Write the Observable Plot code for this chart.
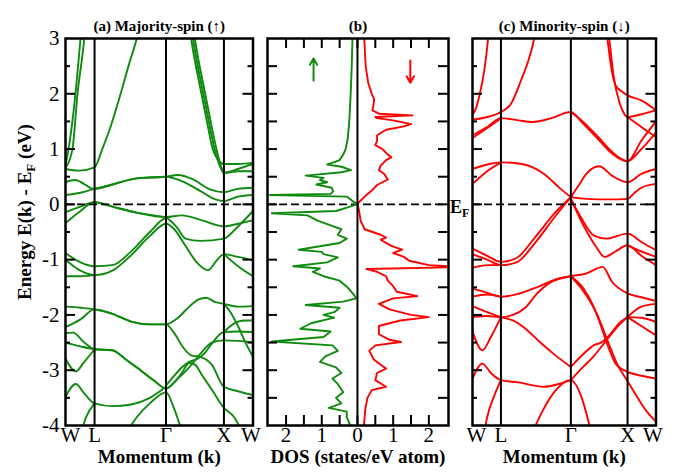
<!DOCTYPE html>
<html><head><meta charset="utf-8">
<script src="https://cdn.jsdelivr.net/npm/d3@7"></script>
<script src="https://cdn.jsdelivr.net/npm/@observablehq/plot@0.6"></script>
<style>
body{margin:0;background:#fff;}
#wrap{position:relative;width:679px;height:472px;overflow:hidden;}
#wrap svg{position:absolute;top:0;}
</style></head><body><div id="wrap"></div>
<script>
// ---------- data ----------
const kTicks = [0, 15.5, 53.6, 84.5, 100];
const kLabels = ["W", "L", "Γ", "X", "W"];
const energyTicks = [-4, -3, -2, -1, 0, 1, 2, 3];
const energyMajor = [-3, -2, -1, 0, 1, 2];
const energyMinor = [-3.5, -2.5, -1.5, -0.5, 0.5, 1.5, 2.5];
const dosTicks = [-2, -1, 0, 1, 2];
const dosMinor = [-1.5, -0.5, 0.5, 1.5];

// majority-spin bands: [k, E]
const majorityBands = [
  [[0,0.72],[1.6,1.0],[5.3,2.0],[8,3.0],[9,3.4]],
  [[0,0.66],[3.7,1.0],[6.4,2.0],[10,3.0],[11,3.4]],
  [[0,0.64],[7,0.61],[15.5,0.67],[19.6,1.0],[24,1.4],[29.4,2.0],[34,2.55],[38,3.0],[40,3.3]],
  [[65,3.5],[67,3.0],[72.5,2.0],[76,1.4],[78.5,1.0],[81.5,0.8],[84.5,0.73],[92,0.73],[100,0.75]],
  [[66,3.5],[68,3.0],[73.5,2.0],[77,1.4],[79.5,1.0],[82.5,0.68],[84.5,0.57],[92,0.64],[100,0.73]],
  [[67,3.5],[69,3.0],[74.5,2.0],[78,1.4],[80.5,1.0],[83,0.68],[84.5,0.57],[92,0.6],[100,0.6]],
  [[0,0.40],[5,0.44],[15.5,0.28],[25,0.36],[38,0.47],[53.6,0.50],[60,0.53],[68,0.45],[77,0.27],[84.5,0.22],[92,0.28],[100,0.3]],
  [[0,0.17],[8,0.21],[15.5,0.28],[25,0.36],[38,0.47],[53.6,0.50],[62,0.42],[72,0.24],[80,0.09],[84.5,0.06],[92,0.14],[100,0.17]],
  [[0,-0.14],[8,-0.04],[15.5,0.04],[25,-0.04],[38,-0.15],[53.6,-0.23],[62,-0.2],[72,-0.28],[84.5,-0.40],[92,-0.35],[100,-0.29]],
  [[0,-0.34],[8,-0.12],[15.5,0.04],[25,-0.04],[38,-0.15],[53.6,-0.23]],
  [[0,-0.88],[8,-1.05],[15.5,-1.12],[25,-1.1],[35,-0.85],[45,-0.5],[53.6,-0.25],[59,-0.4],[64,-0.62],[72,-0.66],[84.5,-0.62],[92,-0.4],[100,-0.12]],
  [[0,-1.0],[8,-1.2],[15.5,-1.28],[25,-1.2],[35,-0.92],[45,-0.57],[53.6,-0.35],[58,-0.45],[64,-0.75],[70,-1.05],[76,-1.19],[81,-1.0],[84.5,-0.9],[92,-0.95],[100,-1.01]],
  [[0,-1.3],[8,-1.3],[15.5,-1.28]],
  [[84.5,-0.9],[92,-1.12],[100,-1.3]],
  [[0,-1.85],[8,-1.87],[15.5,-1.9],[25,-1.98],[35,-2.12],[45,-2.17],[53.6,-2.17],[60,-2.05],[66,-1.85],[71,-1.72],[75,-1.69],[80,-1.77],[84.5,-1.8],[92,-1.85],[100,-1.84]],
  [[0,-2.22],[8,-2.08],[15.5,-1.9],[25,-1.98],[35,-2.12],[45,-2.17],[53.6,-2.17],[58,-2.33],[63,-2.6],[67,-2.73],[72,-2.76],[78,-2.9],[84.5,-3.3],[92,-3.38],[100,-3.45]],
  [[0,-2.33],[4,-2.32],[10,-2.5],[15.5,-2.62],[25,-2.64],[32,-2.8],[40,-3.0],[47,-3.18],[53.6,-3.33],[58,-3.22],[62,-3.05],[66,-2.87],[69,-2.9],[73,-3.1],[78,-3.35],[84.5,-3.68],[90,-3.85],[94,-4.1]],
  [[0,-2.5],[8,-2.57],[15.5,-2.62],[25,-2.64],[32,-2.8],[40,-3.0],[47,-3.18],[53.6,-3.33],[60,-3.15],[66,-2.95],[72,-2.7],[78,-2.5],[84.5,-2.46],[92,-2.47],[100,-2.5]],
  [[53.6,-3.28],[58,-3.1],[62,-2.95],[66,-2.85],[70,-2.8],[74,-2.7],[78,-2.52],[84.5,-2.31],[92,-2.3],[100,-2.31]],
  [[0,-2.79],[5.5,-3.02],[10,-2.85],[15.5,-2.62]],
  [[0,-3.48],[5.5,-3.25],[10,-3.42],[15.5,-3.6],[25,-3.65],[35,-3.62],[45,-3.5],[53.6,-3.3]],
  [[8.5,-4.1],[11,-3.85],[15.5,-3.6]],
  [[33,-4.1],[38,-3.85],[45,-3.6],[53.6,-3.4],[58,-3.7],[62,-4.1]],
  [[84.5,-1.8],[88,-1.95],[92,-2.2],[96,-2.5],[100,-2.76]],
  [[84.5,-2.31],[88,-2.2],[92,-2.12],[96,-2.1],[100,-2.1]]
];

// minority-spin bands: [k, E]
const minorityBands = [
  [[0,1.62],[2,1.75],[4,2.0],[6.4,2.42],[8.5,3.0],[9.5,3.4]],
  [[0,1.53],[8,1.58],[15.5,1.67],[21,1.82],[26.4,2.24],[31,2.66],[33.6,3.0],[35,3.3]],
  [[0,1.25],[8,1.4],[15.5,1.56],[25,1.52],[33,1.49],[43,1.56],[53.6,1.67],[60,1.47],[69,1.16],[76,0.92],[84.5,0.78],[92,1.0],[100,1.3]],
  [[0,1.2],[8,1.38],[15.5,1.56]],
  [[53.6,1.67],[60,1.5],[69,1.2],[76,0.95],[84.5,0.78],[92,1.15],[100,1.5]],
  [[72,3.4],[73.5,3.0],[76,2.4],[78,2.15],[81,2.05],[84.5,1.97],[92,1.88],[100,1.7]],
  [[73,3.4],[74.5,3.0],[77,2.3],[80,1.85],[82.5,1.65],[84.5,1.58],[92,1.63],[100,1.7]],
  [[84.5,1.58],[92,1.4],[100,1.22]],
  [[0,0.64],[8,0.72],[15.5,0.76],[27,0.73],[39,0.55],[48,0.28],[53.6,0.13]],
  [[0,0.37],[8,0.6],[15.5,0.76]],
  [[53.6,0.13],[58,0.35],[62,0.55],[69,0.69],[76,0.52],[84.5,0.40],[92,0.55],[100,0.64]],
  [[53.6,0.13],[62,0.1],[75,0.09],[84.5,0.1],[88,0.2],[92,0.3],[100,0.37]],
  [[53.6,0.1],[59,-0.23],[66,-0.56],[73,-0.62],[84.5,-0.53],[92,-0.68],[100,-0.83]],
  [[53.6,0.1],[60,-0.35],[67,-0.75],[72,-0.95],[78,-0.85],[84.5,-0.74],[92,-0.93],[100,-1.1]],
  [[84.5,-0.74],[92,-0.85],[100,-0.95]],
  [[0,-0.8],[8,-0.93],[15.5,-1.04],[24,-0.97],[34,-0.6],[45,-0.15],[53.6,0.13]],
  [[0,-0.9],[8,-1.0],[15.5,-1.1],[24,-1.05],[34,-0.7],[45,-0.22],[53.6,0.13]],
  [[0,-1.15],[8,-1.1],[15.5,-1.1]],
  [[0,-1.52],[8,-1.6],[15.5,-1.67],[25,-1.62],[35,-1.5],[45,-1.36],[53.6,-1.3],[62,-1.25],[71,-1.13],[76,-1.4],[84.5,-1.61],[92,-1.68],[100,-1.75]],
  [[0,-1.67],[8,-1.63],[15.5,-1.67]],
  [[53.6,-1.3],[60,-1.5],[66,-1.85],[70,-2.2],[74,-2.58],[78,-2.88],[84.5,-3.03],[92,-3.1],[100,-3.15]],
  [[53.6,-1.3],[60,-1.55],[68,-2.0],[74,-2.5],[79,-2.9],[84.5,-3.2],[90,-3.5],[95,-3.75],[100,-3.93]],
  [[84.5,-2.04],[92,-1.85],[100,-1.8]],
  [[84.5,-2.04],[92,-2.05],[100,-2.13]],
  [[84.5,-2.04],[92,-2.2],[100,-2.37]],
  [[53.6,-2.94],[60,-2.72],[66,-2.55],[70,-2.5],[75,-2.35],[80,-2.15],[84.5,-2.04]],
  [[53.6,-3.18],[60,-2.95],[66,-2.75],[72,-2.5],[78,-2.25],[84.5,-2.04]],
  [[0,-1.84],[8,-1.95],[15.5,-2.04],[22,-2.1],[30,-2.28],[37,-2.5],[44,-2.7],[53.6,-2.94]],
  [[0,-2.04],[8,-2.02],[15.5,-2.04],[22,-2.0],[29,-1.86],[35,-1.62],[42,-1.42],[53.6,-1.3]],
  [[0,-2.3],[5.4,-2.64],[10,-2.4],[15.5,-2.04]],
  [[0,-3.15],[5.4,-2.88],[10,-3.05],[15.5,-3.18],[25,-3.22],[39,-3.3],[47,-3.25],[53.6,-3.18]],
  [[6.5,-4.1],[8,-3.85],[12,-3.45],[15.5,-3.18]],
  [[33,-4.1],[38,-3.75],[44,-3.42],[53.6,-3.18],[59,-3.45],[64.5,-4.1]]
];

// DOS: [E, states/eV atom]
const dosUp = [
  [3.0,0.14],[2.5,0.16],[2.0,0.19],[1.5,0.23],[1.2,0.27],[1.0,0.33],[0.9,0.40],[0.8,0.50],[0.72,0.85],[0.68,0.45],
  [0.62,0.18],[0.58,0.45],[0.52,1.45],[0.48,0.95],[0.44,1.05],[0.40,0.85],[0.36,1.15],[0.30,0.72],[0.24,0.68],[0.19,0.75],
  [0.17,2.45],[0.14,0.3],[0.05,0.12],[0.01,0],[-0.05,0.25],[-0.12,0.6],[-0.16,2.4],[-0.2,1.4],[-0.25,1.25],[-0.3,1.1],
  [-0.38,0.75],[-0.45,0.45],[-0.55,0.55],[-0.62,0.3],[-0.7,0.5],[-0.82,1.65],[-0.86,1.0],[-0.9,0.95],[-0.96,0.55],[-1.05,0.85],
  [-1.12,1.8],[-1.16,1.05],[-1.22,1.25],[-1.3,0.95],[-1.38,0.5],[-1.5,0.28],[-1.62,0.12],[-1.7,0.03],[-1.76,0.4],[-1.82,1.45],
  [-1.87,0.5],[-1.95,0.65],[-2.0,0.95],[-2.05,0.65],[-2.15,1.3],[-2.25,1.6],[-2.3,0.75],[-2.4,0.95],[-2.48,2.4],[-2.55,0.7],
  [-2.65,0.55],[-2.75,0.9],[-2.85,1.05],[-2.95,0.6],[-3.05,0.45],[-3.15,0.7],[-3.25,0.55],[-3.4,0.4],[-3.5,0.6],[-3.6,0.45],
  [-3.68,0.8],[-3.75,0.3],[-3.85,0.3],[-4.0,0.2]
];
const dosDown = [
  [3.0,0.19],[2.5,0.23],[2.2,0.3],[2.0,0.4],[1.9,0.47],[1.8,0.45],[1.7,0.42],[1.64,0.6],[1.61,1.54],[1.58,0.5],
  [1.56,0.55],[1.52,1.0],[1.45,1.5],[1.41,1.3],[1.35,0.8],[1.25,0.55],[1.15,0.55],[1.07,0.5],[1.0,0.7],[0.9,0.85],
  [0.85,0.95],[0.8,0.8],[0.7,0.65],[0.62,0.6],[0.55,0.75],[0.45,0.85],[0.35,0.55],[0.25,0.4],[0.15,0.22],[0.07,0.09],
  [0.01,0],[-0.1,0.04],[-0.3,0.09],[-0.45,0.2],[-0.55,0.65],[-0.6,0.8],[-0.64,0.65],[-0.75,0.95],[-0.82,1.25],[-0.88,1.0],
  [-0.95,1.3],[-1.02,1.45],[-1.1,2.0],[-1.12,2.52],[-1.14,2.52],[-1.17,0.25],[-1.22,0.55],[-1.3,0.8],[-1.38,0.85],[-1.48,1.0],
  [-1.58,1.1],[-1.66,1.68],[-1.7,1.0],[-1.8,0.6],[-1.9,0.9],[-2.0,1.5],[-2.04,2.0],[-2.1,1.2],[-2.2,0.6],[-2.35,0.6],
  [-2.45,0.9],[-2.49,1.22],[-2.55,0.5],[-2.65,0.33],[-2.8,0.45],[-2.9,0.65],[-2.97,0.8],[-3.05,0.55],[-3.18,0.5],[-3.3,0.8],
  [-3.36,0.4],[-3.5,0.28],[-3.7,0.22],[-4.0,0.18]
];
// spin arrows in panel (b): DOS position, start E, end E
const upArrow = [{x: -1.23, y1: 2.24, y2: 2.64}];
const downArrow = [{x: 1.48, y1: 2.6, y2: 2.2}];

// ---------- drawing ----------
const H = 472, MT = 38, MB = 47, FH = H - MT - MB;
const FONT = "'Liberation Serif','Times New Roman',serif";
const GREEN = "#0e8a0e", RED = "#ff0000";
const wrap = document.getElementById("wrap");

function mk(opts) {
  return Plot.plot({height: H, marginTop: MT, marginBottom: MB,
    style: {fontFamily: FONT, background: "transparent", overflow: "visible", color: "black"}, ...opts});
}
function yTicks(fw, majLen, minLen) {
  return [
    Plot.tickY(energyMajor, {y: d => d, insetRight: fw - majLen, strokeWidth: 2}),
    Plot.tickY(energyMajor, {y: d => d, insetLeft: fw - majLen, strokeWidth: 2}),
    Plot.tickY(energyMinor, {y: d => d, insetRight: fw - minLen, strokeWidth: 2}),
    Plot.tickY(energyMinor, {y: d => d, insetLeft: fw - minLen, strokeWidth: 2})
  ];
}
function kAxis(dxFirst, dxLast) {
  const fmt = d => kLabels[kTicks.indexOf(d)];
  const o = {tickSize: 0, tickPadding: 2, fontSize: 21, tickFormat: fmt, label: null};
  return [
    Plot.axisX(kTicks.slice(0, 1), {...o, dx: dxFirst}),
    Plot.axisX(kTicks.slice(1, -1), o),
    Plot.axisX(kTicks.slice(-1), {...o, dx: dxLast})
  ];
}
function bandPanel(bands, color, left, width, mL, mR, title, showY, dxFirst, dxLast) {
  const fw = width - mL - mR;
  const p = mk({width, marginLeft: mL, marginRight: mR,
    x: {domain: [0, 100]}, y: {domain: [-4, 3]},
    marks: [
      ...bands.map(b => Plot.line(b, {x: d => d[0], y: d => d[1], stroke: color, strokeWidth: 1.9, curve: "monotone-x", clip: true})),
      Plot.ruleX(kTicks.slice(1, -1), {strokeWidth: 2}),
      Plot.ruleY([0], {strokeDasharray: "8,4", strokeWidth: 1.6}),
      ...yTicks(fw, 10, 5),
      Plot.frame({strokeWidth: 2.5}),
      ...kAxis(dxFirst, dxLast),
      showY ? Plot.axisY(energyTicks, {tickSize: 0, tickPadding: 6, fontSize: 21, tickFormat: d => String(d), label: null}) : Plot.axisY({ticks: [], label: null}),
      Plot.text([title], {text: d => d, frameAnchor: "top", dy: -18, fontSize: 15, fontWeight: "bold"}),
      Plot.text(["Momentum (k)"], {text: d => d, frameAnchor: "bottom", dy: 37, fontSize: 19, fontWeight: "bold"})
    ]});
  p.style.left = left + "px";
  wrap.appendChild(p);
  return p;
}

const pa = bandPanel(majorityBands, GREEN, 0, 262, 65, 9.5, "(a) Majority-spin (↑)", true, 5, -2);

// y label with subscript
const yl = d3.select(pa).append("text")
  .attr("transform", `translate(31,212) rotate(-90)`)
  .attr("text-anchor", "middle").attr("font-weight", "bold").attr("font-size", 19).attr("font-family", FONT);
yl.append("tspan").text("Energy E(k) - E");
yl.append("tspan").attr("font-size", 13).attr("dy", 4).text("F");
yl.append("tspan").attr("dy", -4).text(" (eV)");

// panel b
const bw = 215, bL = 5, bR = 29, bfw = bw - bL - bR;
const pb = mk({width: bw, marginLeft: bL, marginRight: bR,
  x: {domain: [-2.52, 2.55]}, y: {domain: [-4, 3], axis: null},
  marks: [
    Plot.ruleY([0], {strokeDasharray: "8,4", strokeWidth: 1.6}),
    Plot.line(dosUp, {x: d => -d[1], y: d => d[0], stroke: GREEN, strokeWidth: 1.9, clip: true}),
    Plot.line(dosDown, {x: d => d[1], y: d => d[0], stroke: RED, strokeWidth: 1.9, clip: true}),
    Plot.ruleX([0], {strokeWidth: 2}),
    Plot.arrow(upArrow, {x1: "x", x2: "x", y1: "y1", y2: "y2", stroke: GREEN, strokeWidth: 2, headLength: 8}),
    Plot.arrow(downArrow, {x1: "x", x2: "x", y1: "y1", y2: "y2", stroke: RED, strokeWidth: 2, headLength: 8}),
    Plot.tickX(dosTicks.concat(dosMinor), {x: d => d, insetBottom: FH - 10, strokeWidth: 2}),
    Plot.tickX(dosTicks.concat(dosMinor), {x: d => d, insetTop: FH - 10, strokeWidth: 2}),
    Plot.tickY(energyMajor.concat(energyMinor), {y: d => d, insetRight: bfw - 10, strokeWidth: 2}),
    Plot.tickY(energyMajor.concat(energyMinor), {y: d => d, insetLeft: bfw - 10, strokeWidth: 2}),
    Plot.frame({strokeWidth: 2.5}),
    Plot.axisX(dosTicks, {tickSize: 0, tickPadding: 2, fontSize: 21, tickFormat: d => Math.abs(d), label: null}),
    Plot.text(["(b)"], {text: d => d, frameAnchor: "top", dy: -18, fontSize: 15, fontWeight: "bold"}),
    Plot.text(["DOS (states/eV atom)"], {text: d => d, frameAnchor: "bottom", dy: 37, fontSize: 19, fontWeight: "bold"})
  ]});
pb.style.left = "262px";
wrap.appendChild(pb);
const y0 = pb.scale("y").apply(0);
const ef = d3.select(pb).append("text")
  .attr("x", bL + bfw + 2).attr("y", y0 + 9)
  .attr("text-anchor", "start")
  .attr("font-weight", "bold").attr("font-size", 18).attr("font-family", FONT);
ef.append("tspan").text("E");
ef.append("tspan").attr("font-size", 12).attr("dy", 4).text("F");

// panel c
bandPanel(minorityBands, RED, 462, 217, 10, 23.5, "(c) Minority-spin (↓)", false, 4, -3);
</script></body></html>
